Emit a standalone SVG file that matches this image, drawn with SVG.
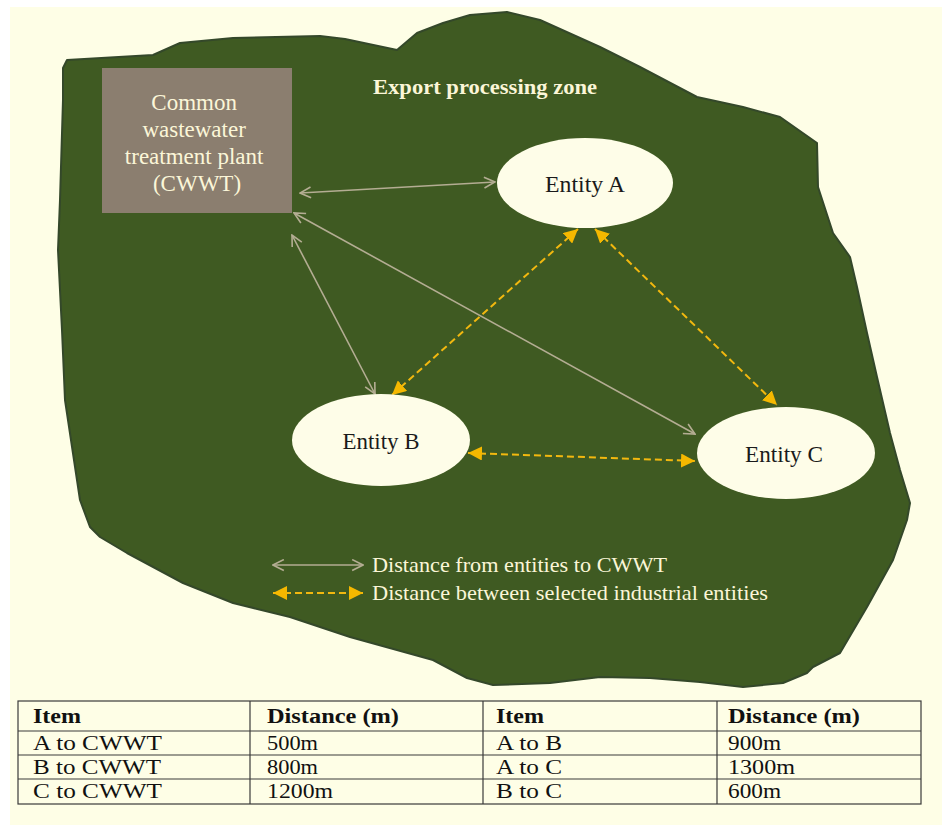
<svg xmlns="http://www.w3.org/2000/svg" width="942" height="825" viewBox="0 0 942 825">
  <defs>
    <style>
      .zone { fill: #3f5a22; stroke: #34482a; stroke-width: 2; stroke-linejoin: round; }
      .plant { fill: #8b7e6f; }
      .entity { fill: #fefde8; }
      .lbl-light { font-family: "Liberation Serif", "Times New Roman", serif; fill: #fbf6d8; }
      .lbl-dark { font-family: "Liberation Serif", "Times New Roman", serif; fill: #1a1a1a; }
      .link-cwwt { fill: none; stroke: #b4ad93; stroke-width: 1.6; marker-start: url(#gArr); marker-end: url(#gArr); }
      .link-pair { fill: none; stroke: #f2b80f; stroke-width: 2; stroke-dasharray: 7 4; marker-start: url(#yArr); marker-end: url(#yArr); }
      .grid { fill: none; stroke: #3a3a3a; stroke-width: 1.2; }
      .cell { font-family: "Liberation Serif", "Times New Roman", serif; font-size: 20px; fill: #111; }
      .head { font-weight: bold; }
    </style>
    <marker id="gArr" viewBox="0 0 12 12" refX="11" refY="6" markerWidth="13" markerHeight="13" markerUnits="userSpaceOnUse" orient="auto-start-reverse">
      <path d="M1,1 L11,6 L1,11" fill="none" stroke="#b4ad93" stroke-width="1.5"/>
    </marker>
    <marker id="yArr" viewBox="0 0 12 12" refX="12" refY="6" markerWidth="14" markerHeight="14" markerUnits="userSpaceOnUse" orient="auto-start-reverse">
      <path d="M0,0 L12,6 L0,12 z" fill="#f5b800"/>
    </marker>
  </defs>

  <!-- page -->
  <rect x="0" y="0" width="942" height="825" fill="#ffffff"/>
  <rect x="10" y="7" width="932" height="818" fill="#fefee6"/>

  <!-- export processing zone outline -->
  <g id="zone">
    <path class="zone" d="M67,60 L153,55 L180,43 L233,38 L320,36 L345,39 L397,50 L417,33 L443,23 L470,15 L507,12 L540,20 L600,47 L640,67 L697,97 L743,107 L780,117 L817,143 L818,187 L833,233 L850,257 L857,287 L867,333 L877,377 L890,433 L900,470 L910,503 L907,520 L893,560 L867,607 L840,653 L813,667 L807,673 L783,683 L743,687 L700,682 L650,678 L600,677 L550,683 L493,685 L467,678 L433,660 L350,637 L290,617 L233,603 L183,583 L127,553 L100,537 L90,527 L80,500 L65,400 L62,330 L58,250 L60,200 L63,100 L63,68 Z"/>
    <text class="lbl-light" x="485" y="94" font-size="22" font-weight="bold" text-anchor="middle" textLength="224" lengthAdjust="spacingAndGlyphs">Export processing zone</text>
  </g>

  <!-- connectors -->
  <g id="connectors">
    <line class="link-cwwt" x1="300" y1="193" x2="495" y2="182"/>
    <line class="link-cwwt" x1="292" y1="235" x2="375" y2="394"/>
    <line class="link-cwwt" x1="294" y1="213" x2="695" y2="434"/>
    <line class="link-pair" x1="578" y1="229" x2="392" y2="395"/>
    <line class="link-pair" x1="595" y1="229" x2="777" y2="405"/>
    <line class="link-pair" x1="468" y1="453" x2="695" y2="461"/>
  </g>

  <!-- common wastewater treatment plant -->
  <g id="cwwt">
    <rect class="plant" x="102" y="68" width="190" height="145"/>
    <text class="lbl-light" font-size="23" text-anchor="middle">
      <tspan x="197" y="110">Common</tspan>
      <tspan x="197" y="137">wastewater</tspan>
      <tspan x="197" y="164">treatment plant</tspan>
      <tspan x="197" y="191">(CWWT)</tspan>
    </text>
  </g>

  <g id="entity-a">
    <ellipse class="entity" cx="585" cy="183" rx="88" ry="45"/>
    <text class="lbl-dark" x="585" y="192" font-size="24" text-anchor="middle" textLength="80" lengthAdjust="spacingAndGlyphs">Entity A</text>
  </g>

  <g id="entity-b">
    <ellipse class="entity" cx="381" cy="440" rx="89" ry="46"/>
    <text class="lbl-dark" x="381" y="449" font-size="24" text-anchor="middle" textLength="77" lengthAdjust="spacingAndGlyphs">Entity B</text>
  </g>

  <g id="entity-c">
    <ellipse class="entity" cx="786" cy="453" rx="89" ry="46"/>
    <text class="lbl-dark" x="784" y="462" font-size="24" text-anchor="middle" textLength="78" lengthAdjust="spacingAndGlyphs">Entity C</text>
  </g>

  <!-- legend -->
  <g id="legend">
    <line class="link-cwwt" x1="273" y1="565" x2="363" y2="565"/>
    <line class="link-pair" x1="273" y1="593" x2="363" y2="593"/>
    <text class="lbl-light" x="372" y="572" font-size="22" textLength="295" lengthAdjust="spacingAndGlyphs">Distance from entities to CWWT</text>
    <text class="lbl-light" x="372" y="600" font-size="22" textLength="396" lengthAdjust="spacingAndGlyphs">Distance between selected industrial entities</text>
  </g>

  <!-- distance table -->
  <g id="distance-table">
    <rect class="grid" x="18" y="701" width="903" height="103"/>
    <line class="grid" x1="18" y1="731" x2="921" y2="731"/>
    <line class="grid" x1="18" y1="755" x2="921" y2="755"/>
    <line class="grid" x1="18" y1="779" x2="921" y2="779"/>
    <line class="grid" x1="250" y1="701" x2="250" y2="804"/>
    <line class="grid" x1="483" y1="701" x2="483" y2="804"/>
    <line class="grid" x1="717" y1="701" x2="717" y2="804"/>

    <text class="cell head" x="33" y="723" textLength="48" lengthAdjust="spacingAndGlyphs">Item</text>
    <text class="cell head" x="267" y="723" textLength="132" lengthAdjust="spacingAndGlyphs">Distance (m)</text>
    <text class="cell head" x="496" y="723" textLength="48" lengthAdjust="spacingAndGlyphs">Item</text>
    <text class="cell head" x="728" y="723" textLength="132" lengthAdjust="spacingAndGlyphs">Distance (m)</text>

    <text class="cell" x="33" y="750" textLength="129" lengthAdjust="spacingAndGlyphs">A to CWWT</text>
    <text class="cell" x="267" y="750" textLength="51" lengthAdjust="spacingAndGlyphs">500m</text>
    <text class="cell" x="496" y="750" textLength="66" lengthAdjust="spacingAndGlyphs">A to B</text>
    <text class="cell" x="728" y="750" textLength="53" lengthAdjust="spacingAndGlyphs">900m</text>

    <text class="cell" x="33" y="774" textLength="128" lengthAdjust="spacingAndGlyphs">B to CWWT</text>
    <text class="cell" x="267" y="774" textLength="51" lengthAdjust="spacingAndGlyphs">800m</text>
    <text class="cell" x="496" y="774" textLength="66" lengthAdjust="spacingAndGlyphs">A to C</text>
    <text class="cell" x="728" y="774" textLength="67" lengthAdjust="spacingAndGlyphs">1300m</text>

    <text class="cell" x="33" y="798" textLength="129" lengthAdjust="spacingAndGlyphs">C to CWWT</text>
    <text class="cell" x="267" y="798" textLength="66" lengthAdjust="spacingAndGlyphs">1200m</text>
    <text class="cell" x="496" y="798" textLength="66" lengthAdjust="spacingAndGlyphs">B to C</text>
    <text class="cell" x="728" y="798" textLength="53" lengthAdjust="spacingAndGlyphs">600m</text>
  </g>
</svg>
